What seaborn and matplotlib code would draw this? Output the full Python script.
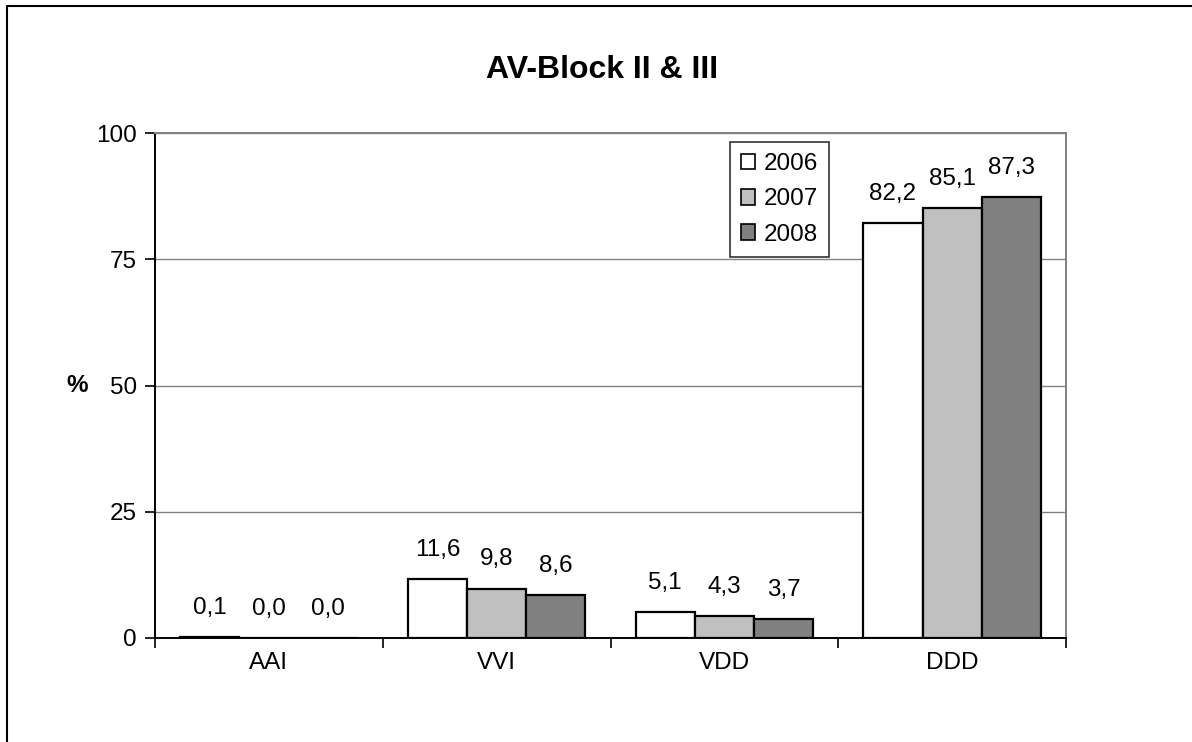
import matplotlib
matplotlib.use("Agg")
import matplotlib.pyplot as plt
from matplotlib.lines import Line2D
from matplotlib.ticker import FixedLocator, NullFormatter
import seaborn as sns
import pandas as pd

# Pacemaker modes and share (%) per year
categories = ["AAI", "VVI", "VDD", "DDD"]
years = ["2006", "2007", "2008"]
values_2006 = [0.1, 11.6, 5.1, 82.2]
values_2007 = [0.0, 9.8, 4.3, 85.1]
values_2008 = [0.0, 8.6, 3.7, 87.3]
y_ticks = [0, 25, 50, 75, 100]
title = "AV-Block II & III"
y_label = "%"

colors = ["#FFFFFF", "#C0C0C0", "#808080"]

rows = []
for year, vals in zip(years, [values_2006, values_2007, values_2008]):
    for cat, v in zip(categories, vals):
        rows.append({"Modus": cat, "Jahr": year, "Wert": v})
df = pd.DataFrame(rows)

sns.set_style("white")
plt.rcParams["font.family"] = ["Liberation Sans", "DejaVu Sans"]
for key in ["text.color", "axes.labelcolor", "xtick.color", "ytick.color"]:
    plt.rcParams[key] = "black"

FS = 17.5

fig = plt.figure(figsize=(11.92, 7.42), dpi=100)
ax = fig.add_axes([155 / 1192, 1 - 638 / 742, (1066 - 155) / 1192, (638 - 133) / 742])

sns.barplot(data=df, x="Modus", y="Wert", hue="Jahr", order=categories,
            hue_order=years, palette=colors, width=0.78, edgecolor="black",
            linewidth=1.6, saturation=1, errorbar=None, ax=ax, zorder=3)

for container in ax.containers:
    ax.bar_label(container,
                 labels=[f"{b.get_height():.1f}".replace(".", ",") for b in container],
                 padding=13, fontsize=FS)

ax.set_ylim(0, 100)
ax.set_xlim(-0.5, len(categories) - 0.5)
ax.set_yticks(y_ticks)
ax.set_yticklabels([str(t) for t in y_ticks], fontsize=FS)
ax.yaxis.grid(True, color="#808080", linewidth=1.0, zorder=0)
ax.set_axisbelow(True)

# category labels centred, tick marks at group boundaries
ax.set_xticks(range(len(categories)))
ax.set_xticklabels(categories, fontsize=FS)
ax.tick_params(axis="x", which="major", length=0, pad=10)
ax.xaxis.set_minor_locator(FixedLocator([i - 0.5 for i in range(len(categories) + 1)]))
ax.xaxis.set_minor_formatter(NullFormatter())
ax.tick_params(axis="x", which="minor", direction="out", length=7, width=1.2, color="black", bottom=True)
ax.tick_params(axis="y", direction="out", length=7, width=1.2, color="black", left=True, pad=6)

ax.set_xlabel("")
ax.set_ylabel(y_label, fontsize=FS, fontweight="bold", rotation=0, labelpad=14, va="center")

for side in ["left", "bottom"]:
    ax.spines[side].set_color("black")
    ax.spines[side].set_linewidth(1.4)
for side in ["top", "right"]:
    ax.spines[side].set_visible(True)
    ax.spines[side].set_color("#808080")
    ax.spines[side].set_linewidth(1.4)

leg = ax.legend(loc="upper left", bbox_to_anchor=(0.631, 0.982), borderaxespad=0,
                fontsize=FS, frameon=True, fancybox=False, edgecolor="black",
                handlelength=0.6, handleheight=0.6, handletextpad=0.35,
                labelspacing=0.55, borderpad=0.45, title=None)
leg.get_frame().set_linewidth(1.2)
for h in leg.legend_handles:
    h.set_edgecolor("black")
    h.set_linewidth(1.2)

fig.text(602 / 1192, 1 - 70 / 742, title, ha="center", va="center",
         fontsize=23, fontweight="bold")

# outer chart frame (left and top edges)
fig.add_artist(Line2D([7 / 1192, 7 / 1192, 1], [0, 1 - 6 / 742, 1 - 6 / 742],
                      transform=fig.transFigure, color="black", linewidth=1.5))

fig.savefig("out.png", dpi=100, facecolor="white")
